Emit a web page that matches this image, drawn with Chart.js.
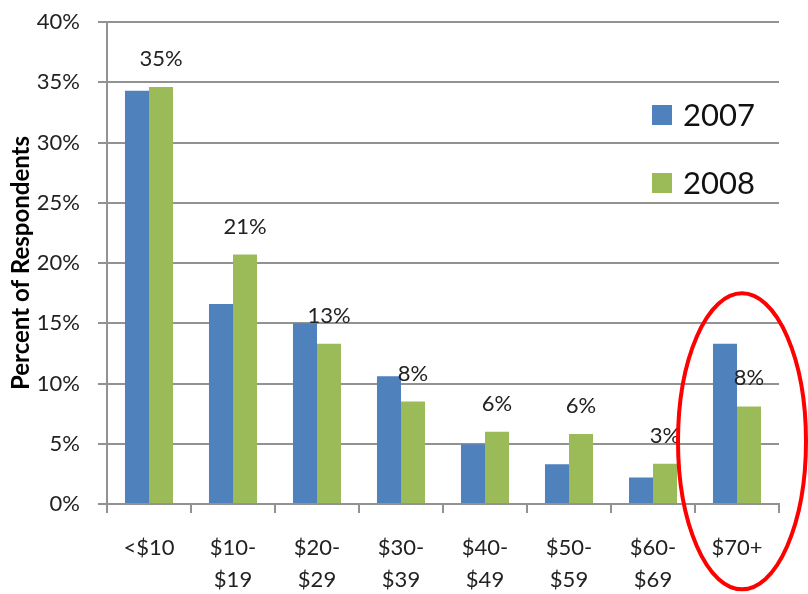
<!DOCTYPE html>
<html lang="en">
<head>
  <meta charset="UTF-8" />
  <title>Percent of Respondents by price range</title>
  <script src="https://cdn.jsdelivr.net/npm/chart.js"></script>
  <style>
    html, body { margin: 0; padding: 0; background: #fff; }
    #wrap { width: 808px; height: 594px; }
  </style>
</head>
<body>
  <div id="wrap"><canvas id="barChart"></canvas></div>

  <script>
    // data
    const categories = [['<$10'], ['$10-', '$19'], ['$20-', '$29'], ['$30-', '$39'],
                        ['$40-', '$49'], ['$50-', '$59'], ['$60-', '$69'], ['$70+']];
    const values2007 = [34.3, 16.6, 15.0, 10.6, 4.95, 3.3, 2.2, 13.3];
    const values2008 = [34.6, 20.7, 13.3, 8.5, 6.0, 5.8, 3.35, 8.1];
    const labels2008 = ['35%', '21%', '13%', '8%', '6%', '6%', '3%', '8%'];
    const yTicks = [0, 5, 10, 15, 20, 25, 30, 35, 40];

    const fontFamily = 'Lato, "Open Sans", sans-serif';
    const gridColor = '#929292';

    // labels above the 2008 bars
    const valueLabels = {
      id: 'valueLabels',
      afterDatasetsDraw(chart) {
        const ctx = chart.ctx;
        const meta = chart.getDatasetMeta(1);
        ctx.save();
        ctx.font = '22px ' + fontFamily;
        ctx.fillStyle = '#222';
        ctx.textAlign = 'center';
        ctx.textBaseline = 'middle';
        meta.data.forEach((bar, i) => {
          ctx.fillText(labels2008[i], bar.x, bar.y - 28);
        });
        ctx.restore();
      }
    };

    // legend drawn inside the plot, top right
    const insideLegend = {
      id: 'insideLegend',
      afterDraw(chart) {
        const ctx = chart.ctx;
        const area = chart.chartArea;
        ctx.save();
        ctx.font = '31px ' + fontFamily;
        ctx.textBaseline = 'middle';
        ctx.textAlign = 'left';
        chart.data.datasets.forEach((ds, i) => {
          const y = area.top + 93 + i * 68;
          const x = area.right - 127;
          ctx.fillStyle = ds.backgroundColor;
          ctx.fillRect(x, y - 10, 20, 20);
          ctx.fillStyle = '#111';
          ctx.fillText(ds.label, x + 31, y + 1);
        });
        ctx.restore();
      }
    };

    // red ellipse around the last group
    const circleLast = {
      id: 'circleLast',
      afterDraw(chart) {
        const ctx = chart.ctx;
        const xs = chart.scales.x;
        const ys = chart.scales.y;
        const cx = xs.getPixelForValue(categories.length - 1) + 5;
        const cy = ys.getPixelForValue(5.2);
        ctx.save();
        ctx.strokeStyle = '#ff0000';
        ctx.lineWidth = 4;
        ctx.beginPath();
        ctx.ellipse(cx, cy, 64, 148, 0, 0, Math.PI * 2);
        ctx.stroke();
        ctx.restore();
      }
    };

    new Chart(document.getElementById('barChart'), {
      type: 'bar',
      data: {
        labels: categories,
        datasets: [
          {
            label: '2007',
            data: values2007,
            backgroundColor: '#4F81BD',
            categoryPercentage: 0.572,
            barPercentage: 1
          },
          {
            label: '2008',
            data: values2008,
            backgroundColor: '#9BBB59',
            categoryPercentage: 0.572,
            barPercentage: 1
          }
        ]
      },
      options: {
        responsive: true,
        maintainAspectRatio: false,
        animation: false,
        layout: { padding: { top: 0, right: 29, left: 7, bottom: 0 } },
        plugins: {
          legend: { display: false },
          tooltip: { enabled: false }
        },
        scales: {
          x: {
            afterFit(scale) { scale.height = 90; },
            grid: {
              display: true,
              drawOnChartArea: false,
              drawTicks: true,
              tickLength: 9,
              color: gridColor,
              lineWidth: 2
            },
            border: { color: gridColor, width: 2 },
            ticks: {
              color: '#222',
              font: { family: fontFamily, size: 22, lineHeight: 1.45 },
              padding: 19,
              maxRotation: 0,
              autoSkip: false
            }
          },
          y: {
            min: 0,
            max: 40,
            afterBuildTicks(axis) {
              axis.ticks = yTicks.map(v => ({ value: v }));
            },
            afterFit(scale) {
              scale.width = 100;
              scale.paddingTop = 22;
              scale.paddingBottom = 0;
            },
            grid: {
              color: gridColor,
              lineWidth: 2,
              tickLength: 9
            },
            border: { color: gridColor, width: 2 },
            ticks: {
              color: '#222',
              font: { family: fontFamily, size: 22 },
              padding: 18,
              callback: v => v + '%'
            },
            title: {
              display: true,
              text: 'Percent of Respondents',
              color: '#000',
              font: { family: fontFamily, size: 24, weight: 'bold' },
              padding: { top: 0, bottom: 0 }
            }
          }
        }
      },
      plugins: [valueLabels, insideLegend, circleLast]
    });
  </script>
</body>
</html>
